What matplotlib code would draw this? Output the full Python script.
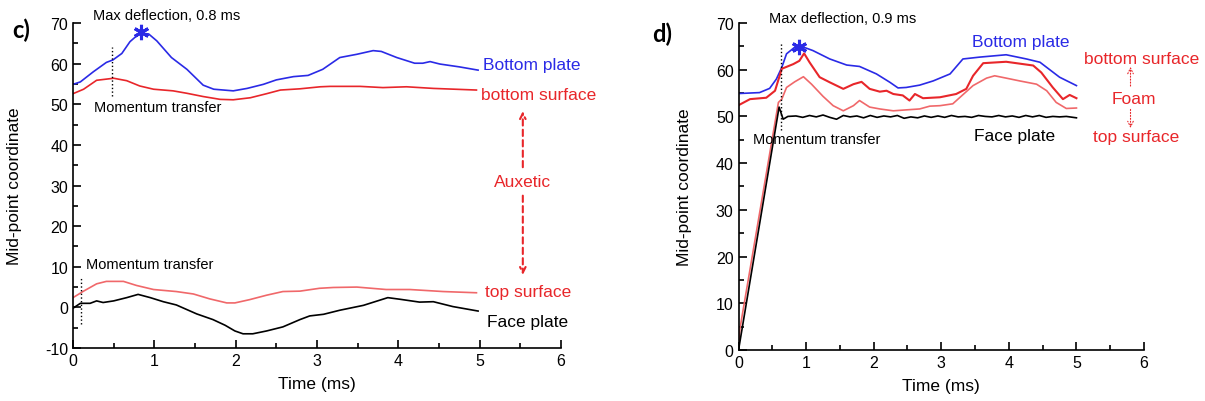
import matplotlib
matplotlib.use("Agg")
import matplotlib.pyplot as plt
from matplotlib.ticker import MultipleLocator

plt.rcParams["font.family"] = ["Liberation Sans", "DejaVu Sans"]
plt.rcParams["axes.unicode_minus"] = False

BLUE = "#2a2ae6"
RED = "#e8262a"
LIGHT_RED = "#f0686a"

# ---- panel c (auxetic) ----
c_plate_t = [0, 0.09, 0.25, 0.41, 0.49, 0.6, 0.70, 0.82, 0.93, 1.03, 1.21, 1.40,
             1.60, 1.73, 1.97, 2.14, 2.34, 2.5, 2.71, 2.89, 3.07, 3.28, 3.49,
             3.69, 3.79, 3.98, 4.20, 4.30, 4.39, 4.51, 4.75, 4.98]
c_plate_v = [54.9, 55.5, 58.0, 60.3, 60.9, 62.5, 65.4, 67.5, 67.3, 65.6, 61.5, 58.6,
             54.7, 53.7, 53.3, 53.9, 54.9, 56.0, 56.8, 57.1, 58.6, 61.5, 62.3,
             63.2, 63.0, 61.5, 60.1, 60.1, 60.5, 59.9, 59.2, 58.4]

c_bot_t = [0, 0.13, 0.29, 0.50, 0.66, 0.82, 0.99, 1.23, 1.40, 1.60, 1.81, 1.97,
           2.18, 2.38, 2.55, 2.79, 3.04, 3.16, 3.53, 3.81, 4.10, 4.43, 4.96]
c_bot_v = [52.6, 53.7, 55.9, 56.4, 55.8, 54.5, 53.7, 53.3, 52.7, 51.9, 51.2, 51.1,
           51.6, 52.6, 53.5, 53.8, 54.3, 54.4, 54.4, 54.1, 54.3, 53.9, 53.5]

c_top_t = [0, 0.13, 0.29, 0.41, 0.62, 0.78, 0.99, 1.27, 1.48, 1.68, 1.89, 1.99,
           2.17, 2.38, 2.58, 2.79, 3.03, 3.20, 3.49, 3.85, 4.14, 4.55, 4.96]
c_top_v = [2.4, 4.0, 5.8, 6.4, 6.4, 5.4, 4.4, 3.9, 3.3, 2.1, 1.1, 1.1,
           1.9, 3.0, 3.9, 4.0, 4.7, 4.9, 5.0, 4.4, 4.4, 3.9, 3.6]

c_face_t = [0, 0.09, 0.21, 0.29, 0.37, 0.50, 0.66, 0.80, 0.95, 1.11, 1.27, 1.52,
            1.72, 1.87, 1.99, 2.09, 2.21, 2.38, 2.58, 2.79, 2.91, 3.08, 3.28,
            3.57, 3.87, 4.02, 4.26, 4.43, 4.67, 4.98]
c_face_v = [-0.2, 1.0, 1.0, 1.6, 1.2, 1.6, 2.4, 3.2, 2.4, 1.4, 0.6, -1.6,
            -3.0, -4.4, -5.8, -6.5, -6.5, -5.8, -4.8, -3.0, -2.1, -1.7, -0.7,
            0.5, 2.4, 2.0, 1.3, 1.4, 0.2, -0.9]

c_peak = (0.84, 67.7)
c_mt_top = (0.48, 52.0, 64.0)
c_mt_low = (0.095, -4.0, 7.4)

# ---- panel d (foam) ----
d_plate_t = [0, 0.31, 0.46, 0.56, 0.64, 0.71, 0.83, 0.93, 1.10, 1.35, 1.60, 1.79,
             2.04, 2.24, 2.36, 2.48, 2.68, 2.88, 3.13, 3.32, 3.57, 3.96, 4.26,
             4.46, 4.75, 5.0]
d_plate_v = [54.9, 55.1, 56.0, 58.0, 60.5, 63.4, 64.8, 65.0, 64.1, 62.3, 61.0, 60.7,
             59.1, 57.3, 56.1, 56.2, 56.7, 57.6, 59.1, 62.3, 62.7, 63.2, 62.3,
             61.6, 58.4, 56.6]

d_bot_t = [0, 0.17, 0.41, 0.54, 0.64, 0.81, 0.90, 0.97, 1.05, 1.20, 1.35, 1.55,
           1.70, 1.82, 1.94, 2.09, 2.19, 2.29, 2.43, 2.53, 2.61, 2.73, 2.98,
           3.22, 3.37, 3.47, 3.62, 3.96, 4.36, 4.48, 4.65, 4.80, 4.90, 5.0]
d_bot_v = [52.4, 53.7, 54.0, 55.5, 60.2, 61.2, 61.9, 63.5, 61.6, 58.4, 57.3, 55.9,
           56.9, 57.4, 55.9, 55.3, 55.5, 54.8, 54.5, 53.4, 54.8, 53.9, 54.1,
           54.8, 55.9, 58.7, 61.4, 61.7, 60.9, 59.4, 56.2, 53.7, 54.6, 53.9]

d_top_t = [0, 0.02, 0.59, 0.64, 0.71, 0.83, 0.96, 1.08, 1.25, 1.40, 1.55, 1.70,
           1.79, 1.94, 2.09, 2.29, 2.48, 2.68, 2.83, 2.98, 3.17, 3.27, 3.47,
           3.67, 3.79, 3.96, 4.16, 4.41, 4.56, 4.70, 4.85, 5.0]
d_top_v = [0.5, 4.5, 53.0, 53.7, 56.2, 57.4, 58.5, 56.9, 54.3, 52.3, 51.2, 52.3,
           53.4, 52.0, 51.6, 51.2, 51.4, 51.6, 52.2, 52.3, 52.7, 54.0, 56.6,
           58.2, 58.7, 58.2, 57.6, 56.9, 55.5, 53.0, 51.7, 51.8]

d_face_t = [0, 0.60, 0.66, 0.73, 0.85, 0.95, 1.05, 1.15, 1.25, 1.35, 1.45, 1.55,
            1.65, 1.75, 1.85, 1.95, 2.05, 2.15, 2.25, 2.35, 2.45, 2.55, 2.65,
            2.75, 2.85, 2.95, 3.05, 3.15, 3.25, 3.35, 3.45, 3.55, 3.65, 3.75,
            3.85, 3.95, 4.05, 4.15, 4.25, 4.35, 4.45, 4.55, 4.65, 4.75, 4.85, 5.0]
d_face_v = [0.0, 52.0, 49.4, 50.0, 50.1, 49.8, 50.2, 49.9, 50.3, 49.8, 49.4, 50.2,
            49.9, 50.1, 49.7, 50.2, 49.8, 50.1, 49.9, 50.2, 49.6, 49.9, 49.7,
            50.1, 49.8, 50.1, 49.8, 50.2, 49.9, 50.0, 49.8, 50.2, 50.0, 49.9,
            50.2, 49.9, 50.1, 49.8, 50.2, 49.9, 50.2, 49.8, 50.0, 49.9, 50.0, 49.7]

d_peak = (0.89, 64.9)
d_mt = (0.63, 47.0, 66.0)

fig = plt.figure(figsize=(12.05, 4.02), dpi=100)
ax_c = fig.add_axes([0.0606, 0.1318, 0.405, 0.8085])
ax_d = fig.add_axes([0.6129, 0.1269, 0.3365, 0.8134])

ASTERISK = (6, 2, 0)


def style_axis(ax, ymin, ymax):
    ax.set_xlim(0, 6)
    ax.set_ylim(ymin, ymax)
    ax.xaxis.set_major_locator(MultipleLocator(1))
    ax.xaxis.set_minor_locator(MultipleLocator(0.5))
    ax.yaxis.set_major_locator(MultipleLocator(10))
    ax.yaxis.set_minor_locator(MultipleLocator(5))
    ax.tick_params(which="both", direction="in", labelsize=11.5, width=1.2)
    ax.tick_params(which="major", length=6)
    ax.tick_params(which="minor", length=3.5)
    ax.spines["top"].set_visible(False)
    ax.spines["right"].set_visible(False)
    for s in ("left", "bottom"):
        ax.spines[s].set_linewidth(1.2)
    ax.set_xlabel("Time (ms)", fontsize=12.5, labelpad=6)
    ax.set_ylabel("Mid-point coordinate", fontsize=12.5)


# ===== panel c =====
ax = ax_c
style_axis(ax, -10, 70)
ax.yaxis.set_label_coords(-0.105, 0.5)
ax.plot(c_plate_t, c_plate_v, color=BLUE, lw=1.2)
ax.plot(c_bot_t, c_bot_v, color=RED, lw=1.2)
ax.plot(c_top_t, c_top_v, color=LIGHT_RED, lw=1.2)
ax.plot(c_face_t, c_face_v, color="black", lw=1.2)
ax.plot(*c_peak, marker=ASTERISK, color=BLUE, ms=11, markeredgewidth=2.2, clip_on=False)
ax.plot([c_mt_top[0]] * 2, c_mt_top[1:], color="black", ls=":", lw=1)
ax.plot([c_mt_low[0]] * 2, c_mt_low[1:], color="black", ls=":", lw=1)

ax.text(0.25, 72.0, "Max deflection, 0.8 ms", fontsize=10.5, va="center", clip_on=False)
ax.text(0.26, 49.3, "Momentum transfer", fontsize=10.5, va="center")
ax.text(0.16, 10.6, "Momentum transfer", fontsize=10.5, va="center")
ax.text(5.04, 59.9, "Bottom plate", fontsize=12.5, color=BLUE, va="center", clip_on=False)
ax.text(5.02, 52.4, "bottom surface", fontsize=12.5, color=RED, va="center", clip_on=False)
ax.text(5.06, 3.9, "top surface", fontsize=12.5, color=RED, va="center", clip_on=False)
ax.text(5.09, -3.4, "Face plate", fontsize=12.5, color="black", va="center", clip_on=False)
ax.text(5.53, 31.0, "Auxetic", fontsize=12.5, color=RED, ha="center", va="center")
ax.annotate("", xy=(5.53, 48.3), xytext=(5.53, 34.5),
            arrowprops=dict(arrowstyle="->", color=RED, lw=1.5, ls=(0, (3, 2)),
                            shrinkA=0, shrinkB=0))
ax.annotate("", xy=(5.53, 8.0), xytext=(5.53, 27.5),
            arrowprops=dict(arrowstyle="->", color=RED, lw=1.5, ls=(0, (3, 2)),
                            shrinkA=0, shrinkB=0))

# ===== panel d =====
ax = ax_d
style_axis(ax, 0, 70)
ax.yaxis.set_label_coords(-0.115, 0.5)
ax.plot(d_plate_t, d_plate_v, color=BLUE, lw=1.2)
ax.plot(d_top_t, d_top_v, color=LIGHT_RED, lw=1.2)
ax.plot(d_bot_t, d_bot_v, color=RED, lw=1.5)
ax.plot(d_face_t, d_face_v, color="black", lw=1.2)
ax.plot(*d_peak, marker=ASTERISK, color=BLUE, ms=11, markeredgewidth=2.2)
ax.plot([d_mt[0]] * 2, d_mt[1:], color="black", ls=":", lw=1)

ax.text(0.45, 71.1, "Max deflection, 0.9 ms", fontsize=10.5, va="center", clip_on=False)
ax.text(0.21, 45.2, "Momentum transfer", fontsize=10.5, va="center")
ax.text(3.45, 66.1, "Bottom plate", fontsize=12.5, color=BLUE, va="center")
ax.text(3.48, 46.0, "Face plate", fontsize=12.5, color="black", va="center")
ax.text(5.97, 62.5, "bottom surface", fontsize=12.5, color=RED, ha="center", va="center",
        clip_on=False)
ax.text(5.85, 53.9, "Foam", fontsize=12.5, color=RED, ha="center", va="center", clip_on=False)
ax.text(5.89, 45.8, "top surface", fontsize=12.5, color=RED, ha="center", va="center",
        clip_on=False)
ax.annotate("", xy=(5.80, 60.6), xytext=(5.80, 56.5), annotation_clip=False,
            arrowprops=dict(arrowstyle="->", color=RED, lw=0.8, ls=":",
                            shrinkA=0, shrinkB=0))
ax.annotate("", xy=(5.80, 47.5), xytext=(5.80, 51.5), annotation_clip=False,
            arrowprops=dict(arrowstyle="->", color=RED, lw=0.8, ls=":",
                            shrinkA=0, shrinkB=0))

# panel letters
fig.text(0.010, 0.925, "c)", fontsize=17, fontweight="bold", family=["Lato", "DejaVu Sans"],
         va="center")
fig.text(0.541, 0.915, "d)", fontsize=17, fontweight="bold", family=["Lato", "DejaVu Sans"],
         va="center")

fig.savefig("out.png", dpi=100)
